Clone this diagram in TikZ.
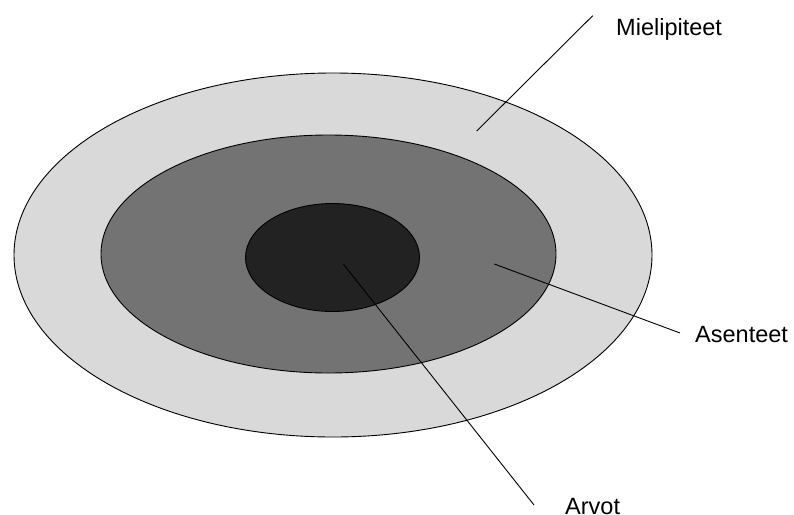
\documentclass[tikz,border=0pt]{standalone}
\usepackage{fontspec}
\setmainfont{Liberation Sans}
\begin{document}
\begin{tikzpicture}[x=1pt,y=-1pt,
  ring/.style={draw=black,line width=0.9pt},
  leader/.style={draw=black,line width=0.9pt},
  lbl/.style={inner sep=0pt,anchor=base west,font=\fontsize{23.5}{28}\selectfont}]
\useasboundingbox (0,0) rectangle (794,514);
\fill[white] (0,0) rectangle (794,514);
\path[ring,fill={rgb,255:red,217;green,217;blue,217}] (333,255) ellipse [x radius=319,y radius=182];
\path[ring,fill={rgb,255:red,115;green,115;blue,115}] (328.5,254) ellipse [x radius=227.5,y radius=119];
\path[ring,fill={rgb,255:red,34;green,34;blue,34}] (332.5,257.5) ellipse [x radius=87,y radius=54];
\node[lbl] (miel) at (616,35) {Mielipiteet};
\node[lbl] (asen) at (695,342) {Asenteet};
\node[lbl] (arvo) at (565,514) {Arvot};
\coordinate (m1) at (476.7,131);
\coordinate (m2) at (592.7,15.7);
\coordinate (a1) at (494.3,264);
\coordinate (a2) at (680,333);
\coordinate (r1) at (343.3,264);
\coordinate (r2) at (534,505);
\draw[leader] (m1) -- (m2);
\draw[leader] (a1) -- (a2);
\draw[leader] (r1) -- (r2);
\end{tikzpicture}
\end{document}
